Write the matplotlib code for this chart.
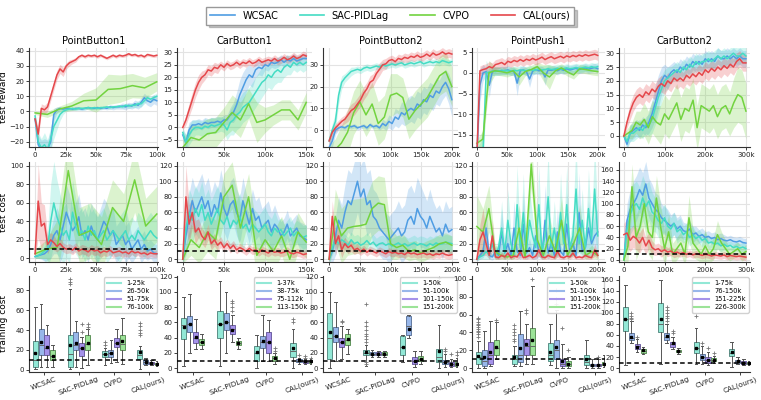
import numpy as np
import matplotlib
matplotlib.use('Agg')
import matplotlib.pyplot as plt
from matplotlib.lines import Line2D

# ---------------- labels / colours ----------------
algos = ['WCSAC', 'SAC-PIDLag', 'CVPO', 'CAL(ours)']
algo_colors = ['#4f9de3', '#44dcc4', '#72d33f', '#e5474b']
envs = ['PointButton1', 'CarButton1', 'PointButton2', 'PointPush1', 'CarButton2']
env_steps = [100, 150, 200, 200, 300]  # thousand env steps
box_colors = ['#92e8d6', '#98b7ea', '#a592ea', '#9ce398']
box_edges = ['#5a8f86', '#62799f', '#6d5fa3', '#5f945b']
interval_labels = [
    ['1-25k', '26-50k', '51-75k', '76-100k'],
    ['1-37k', '38-75k', '75-112k', '113-150k'],
    ['1-50k', '51-100k', '101-150k', '151-200k'],
    ['1-50k', '51-100k', '101-150k', '151-200k'],
    ['1-75k', '76-150k', '151-225k', '226-300k'],
]

# ---------------- test reward (mean, spread) ----------------
rew_pb1_wcsac = [-5, -22, -25, -24, -25, -20, -2, 1, 2, 1.5, 2, 2, 1.5, 2, 2, 1.5, 2, 2.5, 2, 2,
                 2.5, 2, 2.5, 2, 3, 2.5, 3, 3, 3.5, 3, 4, 3.5, 5, 4, 6, 9, 7, 6, 8, 7]
rew_pb1_wcsac_sd = [2, 6, 6, 6, 6, 8, 4, 2] + [1] * 16 + [1.5] * 4 + [2] * 4 + [2.5] * 2 + [3] * 6
rew_pb1_sac = [-3, -20, -24, -22, -25, -18, -10, -6, -2, 0, 1, 1.5, 2, 1.5, 2, 2, 2, 2.5, 2, 2.5,
               2, 2.5, 2.5, 3, 2.5, 3, 3, 3.5, 3, 4, 3.5, 4, 4, 5, 5, 7, 9, 8, 9, 10]
rew_pb1_sac_sd = [2, 6, 6, 8, 6, 8, 8, 6, 4, 2] + [1] * 19 + [1.5] * 4 + [2] * 7
rew_pb1_cal = [-5, -15, 2, 1, 3, 10, 17, 24, 28, 26, 30, 32, 33, 34, 36, 37, 36, 37, 36.5, 37,
               36, 37, 36, 35, 36, 37, 36, 37, 36.5, 37, 38, 37, 37.5, 36.5, 37, 36, 37.5, 37, 36.5, 37]
rew_pb1_cal_sd = [2, 4, 3, 3, 3, 3, 3, 3, 3, 3, 2, 2, 1.5, 1.5] + [1] * 26
rew_pb1_cvpo = [-1, -2, 1.5, 3.5, 7, 7.5, 14.5, 15, 17, 15.5, 19.5]
rew_pb1_cvpo_sd = [1, 2, 2, 3, 5, 8, 10, 9, 8, 7, 6]

rew_cb1_wcsac = [-3, -6, -1, 1, 1, 1.5, 1, 2, 1.5, 2, 2, 2.5, 2, 3, 3, 5, 6, 9, 13, 16,
                 19, 21, 20, 23, 24, 23.5, 25, 24.5, 26, 25.5, 26, 27, 26, 27, 26.5, 27.5, 26.5, 27, 27.5, 27.5]
rew_cb1_wcsac_sd = [2, 3, 3] + [2] * 12 + [3, 4, 5, 6, 6, 5, 4, 4, 3, 3, 3] + [2] * 14
rew_cb1_sac = [-2, -6, -3, -1, 0, 0, -0.5, 0.5, 0, 1, 0.5, 1, 1.5, 1, -1, 2, 3, 5, 6, 8,
               9, 10, 12, 14, 16, 18, 19, 21, 20, 22, 23, 22, 24, 25, 24, 26, 25, 26, 25, 26]
rew_cb1_sac_sd = [2, 3, 4, 4] + [3] * 10 + [4, 5] + [6] * 10 + [5] * 5 + [4] * 3 + [3] * 6
rew_cb1_cal = [0, 3, 7, 11, 15, 18, 20, 21, 23, 22.5, 24, 23.5, 25, 24, 25.5, 24.5, 25, 26, 25, 26,
               25.5, 26.5, 25.5, 26, 27, 26, 26.5, 27, 26.5, 27.5, 26.5, 27, 28, 27, 27.5, 28.5, 27.5, 28, 29, 28.5]
rew_cb1_cal_sd = [1, 2, 2.5, 3, 3, 3, 2.5, 2, 2, 2, 2, 2] + [1.5] * 28
rew_cb1_cvpo = [-8, -4, -5, -2.5, -2, 2, 6, 3, 9.5, 2, 3, 5, 7, 7, 3, 10]
rew_cb1_cvpo_sd = [3, 5, 6, 6, 6, 6, 7, 7, 6, 8, 5, 4, 4, 4, 4, 4]

rew_pb2_wcsac = [-8, -5, 0, 1, 1.5, 1, 2, 1.5, 2, 1, 1.5, 2, 1, 2.5, 1.5, 2, 1, 3, 2, 4,
                 3, 6, 5, 8, 7, 9, 10, 9, 12, 11, 14, 13, 16, 15, 18, 17, 20, 22, 19, 14]
rew_pb2_wcsac_sd = [3, 3, 2] + [1] * 14 + [2, 2, 3, 3, 4, 4, 5, 5] + [6] * 13 + [7, 8]
rew_pb2_sac = [-5, 0, 4, 16, 22, 24, 25.5, 27, 27.5, 28, 27.5, 28.5, 29, 28.5, 29, 29.5, 29, 30, 29.5, 30,
               30.5, 30, 30.5, 31, 30, 30.5, 31, 30.5, 31, 31.5, 30.5, 31, 31.5, 31, 31.5, 31, 32, 31.5, 31, 31.5]
rew_pb2_sac_sd = [2, 3, 4, 4, 3, 2, 2, 2] + [1.5] * 32
rew_pb2_cal = [-5, -1, 1, 2.5, 4, 5, 7, 9, 10, 12, 14, 17, 19, 22, 23, 26, 28, 30, 30.5, 32,
               32.5, 31.5, 33, 32.5, 33.5, 33, 34, 33.5, 34.5, 33.5, 34, 35, 34, 35.5, 34.5, 35, 36, 35, 35.5, 35]
rew_pb2_cal_sd = [2] * 6 + [3] * 11 + [2.5, 2.5] + [2] * 21
rew_pb2_cvpo = [-10, -9, -6, -1, 8, 13, 7, 12, 3, 6, 16, 17, 15, 5, 9, 12, 15, 20, 25, 27, 20]
rew_pb2_cvpo_sd = [3, 5, 8] + [10] * 8 + [9] * 10

rew_pp1_wcsac = [-20, -3, 0, 0.3, -3, 0.3, 0.5, 0.4, 0.6, 0.5, 0.7, 0.4, 0.3, -2.5, 0.5, 0.7, 0.3, -1.5, 0.4, 0.8,
                 0.5, 0.6, -1, 0.7, 0.6, 0.8, 0.5, 0.9, 0.6, 1, 0.7, 0.9, 1.1, 0.8, 1, 1.2, 0.9, 1.1, 1.3, 1]
rew_pp1_wcsac_sd = [2, 4, 2, 1, 3, 1, 1, 1, 1, 1, 1, 1, 1, 3, 1, 1, 1, 2, 1, 1,
                    1, 1, 2, 1, 1, 1, 1, 1, 1, 1, 1, 1, 1, 1, 1, 1, 1, 1, 1, 1]
rew_pp1_sac = [-20, -20, -19, 0, 0.2, 0.4, 0.3, 0.5, 0.4, 0.6, 0.5, 0.4, 0.6, 0.5, 0.7, 0.6, 0.5, 0.8, 0.6, 0.7,
               0.9, 0.7, 0.8, 1, 0.8, 0.9, 1.1, 0.9, 1, 1.2, 1, 1.1, 1.3, 1.1, 1.2, 1.4, 1.2, 1.5, 1.3, 1.5]
rew_pp1_sac_sd = [2, 3, 6, 3] + [1] * 36
rew_pp1_cal = [-20, 0.5, 0.8, 1, 1.5, 1.2, 2, 2.2, 2.5, 2, 2.8, 2.5, 3, 2.7, 3.2, 2.8, 3.3, 3, 3.5, 3.1,
               3.4, 3.8, 3.2, 3.6, 3.9, 3.4, 3.7, 4, 3.6, 4.1, 3.8, 4.2, 3.9, 4.3, 4, 4.4, 4.1, 4.3, 4.5, 4.2]
rew_pp1_cal_sd = [2] + [1.2] * 39
rew_pp1_cvpo = [-17, -16, 0, 0.5, 0.3, 0, 0.5, -1, 0.3, 0.8, 1.5, 0, -1, 0.5, 1.2, 0.2, -0.5, 1, 0.8, 0.5, 0.3]
rew_pp1_cvpo_sd = [1, 2, 3, 1, 1, 1, 1, 2, 1, 1, 1, 2, 3, 1, 1, 1, 1, 1, 1, 1, 1]

rew_cb2_wcsac = [0, -3, 1, 2, 3, 2, 4, 3, 5, 8, 12, 16, 20, 22, 21, 23, 24, 23, 25, 24,
                 26, 25, 27, 26, 27, 26, 28, 27, 28, 27, 29, 28, 28, 29, 28, 29, 28, 29, 28, 28]
rew_cb2_wcsac_sd = [1, 2, 3, 3, 3, 3, 3, 3, 4, 5, 6, 6, 5, 4, 4] + [3] * 25
rew_cb2_sac = [0, -2, 1, 1, 2, 3, 2, 4, 4, 6, 10, 14, 17, 20, 21, 22, 23, 24, 23, 25,
               24, 26, 25, 27, 26, 27, 27, 28, 27, 28, 29, 28, 29, 28, 29, 30, 29, 29, 30, 29]
rew_cb2_sac_sd = [1, 2, 3, 3, 3, 3, 3, 3, 4, 5, 6, 6, 5, 4, 4] + [3] * 25
rew_cb2_cal = [0, 5, 9, 12, 14, 15, 14, 16, 15, 17, 16, 18, 19, 18, 20, 19, 21, 20, 21, 20,
               22, 21, 22.5, 21.5, 23, 22, 24, 23, 24.5, 23.5, 25, 24, 25.5, 24.5, 26, 25, 27, 28, 26.5, 26.5]
rew_cb2_cal_sd = [1, 2] + [3] * 38
rew_cb2_cvpo = [0, 1, 2, 5, 4, 6, 3, 7, 5, 4, 8, 6, 9, 12, 6, 10, 9, 13, 3, 11, 10, 9, 11, 7, 10, 11, 8, 12, 15, 14, 9]
rew_cb2_cvpo_sd = [1, 2, 3, 4, 5] + [6] * 4 + [7] * 5 + [8] * 13 + [9, 10, 10, 10]

# ---------------- test cost (mean, spread) ----------------
cost_pb1_wcsac = [2, 3, 4, 5, 8, 15, 25, 30, 20, 35, 50, 40, 30, 35, 45, 25, 30, 20, 35, 25,
                  20, 30, 40, 35, 25, 30, 15, 20, 25, 15, 20, 10, 15, 20, 10, 15, 8, 10, 6, 5]
cost_pb1_wcsac_sd = [2, 3, 5, 8, 10, 15, 20, 25, 25, 30, 30, 30] + [25] * 14 + [20] * 5 + [15] * 5 + [10] * 4
cost_pb1_sac = [2, 3, 5, 8, 10, 40, 60, 45, 35, 25, 30, 20, 50, 35, 25, 30, 20, 35, 25, 30,
                20, 25, 30, 20, 25, 30, 25, 20, 25, 30, 20, 25, 20, 30, 25, 20, 25, 30, 25, 22]
cost_pb1_sac_sd = [2, 3, 5, 10, 20, 40, 45, 40, 35, 30, 30, 25, 35, 30] + [25] * 16 + [20] * 10
cost_pb1_cal = [5, 62, 35, 38, 15, 20, 17, 13, 16, 12, 10, 11, 9, 12, 8, 10, 9, 7, 10, 8,
                9, 6, 8, 7, 9, 6, 7, 8, 6, 7, 5, 8, 6, 7, 5, 6, 4, 6, 5, 5]
cost_pb1_cal_sd = [5, 40, 25, 20, 10, 8, 8, 6, 6] + [5] * 21 + [4] * 10
cost_pb1_cvpo = [5, 10, 12, 95, 25, 30, 15, 55, 40, 85, 35, 48]
cost_pb1_cvpo_sd = [5, 10, 30, 40, 30, 30, 30, 30, 30, 35, 30, 30]

cost_cb1_wcsac = [0, 30, 55, 75, 60, 70, 80, 65, 75, 55, 70, 60, 85, 65, 55, 70, 75, 60, 50, 75,
                  60, 45, 65, 50, 55, 40, 45, 50, 35, 45, 40, 30, 35, 45, 30, 35, 40, 30, 28, 25]
cost_cb1_wcsac_sd = [5, 25] + [30] * 18 + [25] * 10 + [18] * 10
cost_cb1_sac = [0, 40, 60, 50, 65, 55, 70, 50, 60, 45, 55, 65, 50, 45, 55, 40, 50, 45, 55, 40,
                45, 35, 45, 40, 35, 40, 45, 35, 30, 40, 35, 38, 30, 35, 40, 30, 35, 32, 28, 30]
cost_cb1_sac_sd = [5, 30] + [30] * 18 + [22] * 10 + [15] * 10
cost_cb1_cal = [0, 80, 45, 60, 35, 40, 30, 25, 35, 20, 25, 18, 22, 15, 20, 14, 18, 12, 15, 13,
                10, 14, 11, 12, 9, 12, 10, 8, 11, 9, 10, 8, 9, 11, 8, 7, 9, 8, 6, 7]
cost_cb1_cal_sd = [5, 40, 25, 20, 15, 12, 10, 10, 10, 8, 8, 7, 7, 6, 6, 6, 6] + [5] * 23
cost_cb1_cvpo = [0, 25, 15, 35, 25, 80, 95, 40, 80, 5, 25, 10, 30, 0, 35, 22]
cost_cb1_cvpo_sd = [5, 20, 20, 25, 25, 30, 30, 30, 30, 30, 25, 25, 25, 25, 25, 20]

cost_pb2_wcsac = [0, 10, 30, 50, 40, 60, 75, 70, 85, 100, 80, 90, 70, 75, 55, 50, 40, 35, 30, 25,
                  30, 35, 40, 30, 35, 50, 55, 45, 65, 55, 50, 40, 55, 45, 35, 40, 30, 45, 35, 38]
cost_pb2_wcsac_sd = [5, 15, 25, 30, 30, 35] + [40] * 8 + [35] * 4 + [30] * 4 + [35] * 3 + [40] * 5 + [35] * 3 + [30] * 7
cost_pb2_sac = [0, 15, 25, 20, 25, 22, 18, 25, 20, 22, 18, 20, 24, 19, 22, 17, 20, 21, 18, 20,
                17, 19, 21, 18, 20, 17, 19, 21, 18, 20, 19, 17, 20, 18, 21, 19, 20, 22, 21, 20]
cost_pb2_sac_sd = [5] + [10] * 39
cost_pb2_cal = [0, 55, 20, 30, 12, 20, 15, 18, 12, 14, 10, 13, 9, 12, 10, 8, 11, 9, 7, 10,
                8, 9, 7, 8, 6, 9, 7, 8, 6, 7, 8, 6, 7, 5, 7, 6, 8, 6, 5, 6]
cost_pb2_cal_sd = [5, 20, 15, 12, 10, 8, 8, 8, 6, 6] + [5] * 30
cost_pb2_cvpo = [0, 55, 30, 40, 42, 43, 45, 65, 72, 70, 20, 15, 18, 10, 12, 8, 12, 15, 20, 22, 18]
cost_pb2_cvpo_sd = [5] + [35] * 9 + [20, 15, 15] + [12] * 8

cost_pp1_wcsac = [0, 5, 10, 40, 5, 3, 10, 5, 35, 8, 20, 5, 40, 10, 5, 45, 8, 15, 5, 30,
                  10, 5, 50, 8, 20, 5, 35, 10, 5, 45, 10, 20, 5, 60, 10, 15, 40, 20, 30, 35]
cost_pp1_wcsac_sd = [2, 5, 8, 30, 5, 4, 8, 5, 30, 8, 15, 5, 35, 8, 5, 40, 8, 12, 5, 30,
                     8, 5, 45, 8, 15, 5, 30, 8, 5, 40, 8, 15, 5, 50, 8, 12, 35, 15, 25, 30]
cost_pp1_sac = [0, 3, 5, 10, 5, 20, 5, 15, 40, 8, 50, 20, 5, 70, 15, 60, 10, 50, 30, 15,
                70, 10, 30, 80, 15, 40, 10, 60, 20, 70, 15, 30, 90, 20, 50, 15, 65, 25, 90, 30]
cost_pp1_sac_sd = [2, 3, 5, 10, 5, 15, 5, 12, 35, 8, 40, 15, 5, 50, 12, 50, 8, 40, 25, 12,
                   50, 8, 25, 60, 12, 35, 8, 50, 15, 50, 12, 25, 60, 15, 40, 12, 50, 20, 60, 25]
cost_pp1_cal = [0, 25, 35, 20, 5, 30, 3, 2, 5, 3, 8, 2, 4, 3, 10, 2, 3, 5, 2, 4,
                12, 3, 2, 5, 3, 2, 10, 3, 2, 4, 3, 8, 2, 3, 2, 5, 3, 2, 12, 5]
cost_pp1_cal_sd = [2, 20, 30, 15, 5, 20, 3, 2, 4, 3, 6, 2, 3, 3, 8, 2, 3, 4, 2, 3,
                   8, 3, 2, 4, 3, 2, 8, 3, 2, 3, 3, 6, 2, 3, 2, 4, 3, 2, 8, 4]
cost_pp1_cvpo = [42, 35, 65, 10, 5, 3, 5, 40, 2, 122, 25, 5, 30, 10, 50, 5, 20, 40, 5, 10, 5]
cost_pp1_cvpo_sd = [40, 30, 30, 10, 5, 3, 5, 30, 2, 30, 20, 5, 25, 10, 30, 5, 15, 30, 5, 8, 5]

cost_cb2_wcsac = [0, 70, 90, 100, 110, 125, 115, 135, 110, 100, 90, 85, 75, 70, 65, 60, 65, 55, 60, 52,
                  50, 55, 45, 48, 42, 45, 40, 42, 38, 40, 36, 38, 35, 34, 36, 33, 32, 34, 31, 30]
cost_cb2_wcsac_sd = [5, 30, 35, 40, 40, 40, 40, 40, 35, 35, 30, 30, 25, 25, 25, 20, 20, 20, 20, 15,
                     15, 15, 15, 12, 12, 12] + [10] * 7 + [8] * 7
cost_cb2_sac = [0, 55, 80, 95, 100, 90, 110, 95, 105, 85, 80, 70, 65, 75, 60, 55, 65, 50, 55, 45,
                50, 40, 45, 38, 42, 35, 38, 30, 32, 28, 30, 25, 28, 24, 26, 22, 24, 21, 23, 20]
cost_cb2_sac_sd = [5, 30, 35, 40, 40, 40, 40, 40, 35, 35, 30, 30, 25, 25, 25, 20, 20, 20, 20, 15,
                   15, 15, 15, 12, 12, 12] + [10] * 7 + [8] * 7
cost_cb2_cal = [45, 48, 35, 42, 38, 30, 40, 25, 35, 22, 18, 20, 15, 18, 14, 16, 12, 14, 11, 13,
                10, 12, 9, 11, 10, 8, 10, 9, 7, 9, 8, 7, 9, 6, 8, 7, 6, 7, 6, 5]
cost_cb2_cal_sd = [20, 25, 20, 20, 20, 18, 18, 15, 15, 12, 10, 10, 10, 8, 8, 8, 8, 8] + [6] * 22
cost_cb2_cvpo = [0, 25, 130, 40, 60, 100, 50, 40, 110, 60, 20, 50, 10, 20, 30, 10, 75, 30, 20, 10,
                 25, 10, 20, 45, 30, 20, 10, 15, 20, 10, 15]
cost_cb2_cvpo_sd = [5, 30] + [40] * 8 + [30, 30] + [20] * 4 + [40, 25, 20, 15, 30, 15, 20, 25, 20, 15] + [12] * 5

# ---------------- training cost box statistics ----------------
# order: WCSAC x4 intervals, SAC-PIDLag x4, CVPO x4, CAL x4
box_pb1_lo = [1, 3, 3, 3, 1, 3, 2, 5, 5, 7, 8, 6, 1, 5, 5, 4]
box_pb1_q1 = [3, 15, 15, 10, 3, 20, 14, 20, 13, 13, 23, 20, 11, 6, 6, 5]
box_pb1_med = [10, 25, 22, 14, 16, 25, 22, 26, 16, 17, 27, 26, 15, 8, 7, 6]
box_pb1_q3 = [29, 41, 35, 20, 35, 38, 27, 35, 19, 20, 32, 35, 20, 10, 8, 7]
box_pb1_hi = [63, 66, 45, 25, 81, 49, 33, 41, 22, 30, 41, 52, 24, 12, 10, 9]
box_pb1_mean = [17, 28, 23, 14, 25, 27, 22, 27, 16, 17, 27, 29, 18, 8, 7, 6]
box_pb1_fliers = {4: [86, 88, 91], 6: [38, 46], 7: [43, 46], 8: [25, 28], 12: [35, 37, 40, 44, 47]}

box_cb1_lo = [3, 20, 25, 25, 3, 20, 35, 25, 0, 10, 10, 5, 0, 5, 5, 5]
box_cb1_q1 = [38, 48, 33, 30, 40, 50, 45, 30, 10, 27, 20, 10, 15, 8, 7, 7]
box_cb1_med = [57, 58, 40, 35, 58, 60, 52, 33, 20, 35, 35, 13, 22, 10, 8, 8]
box_cb1_q3 = [66, 68, 48, 38, 75, 72, 57, 36, 29, 42, 47, 16, 33, 12, 10, 10]
box_cb1_hi = [93, 97, 64, 45, 115, 100, 70, 40, 43, 70, 63, 20, 52, 14, 12, 12]
box_cb1_mean = [54, 58, 41, 34, 58, 60, 50, 33, 21, 36, 34, 14, 27, 11, 9, 9]
box_cb1_fliers = {6: [75, 80, 85, 88], 11: [23, 26], 12: [60, 65], 13: [17], 14: [14, 16], 15: [14]}

box_pb2_lo = [0, 10, 12, 18, 3, 15, 15, 15, 8, 40, 2, 5, 0, 2, 1, 1]
box_pb2_q1 = [12, 35, 28, 30, 17, 17, 17, 17, 17, 44, 5, 9, 8, 5, 3, 3]
box_pb2_med = [40, 42, 35, 37, 20, 19, 19, 19, 28, 55, 10, 12, 15, 8, 5, 5]
box_pb2_q3 = [73, 54, 40, 45, 24, 21, 21, 21, 42, 69, 15, 16, 25, 11, 8, 8]
box_pb2_hi = [100, 87, 56, 52, 30, 24, 23, 23, 44, 70, 22, 22, 57, 18, 12, 13]
box_pb2_mean = [47, 42, 35, 38, 21, 19, 19, 19, 28, 52, 9, 12, 22, 8, 6, 6]
box_pb2_fliers = {2: [60, 62], 4: [5, 8, 35, 38, 42, 45, 50, 55, 60, 84], 12: [118], 13: [22, 25],
                  14: [18], 15: [17, 21]}

box_pp1_lo = [0, 0, 2, 10, 2, 2, 5, 5, 3, 0, 0, 0, 0, 0, 0, 1]
box_pp1_q1 = [5, 2, 5, 15, 5, 7, 15, 15, 8, 10, 2, 2, 3, 2, 2, 3]
box_pp1_med = [12, 8, 15, 22, 10, 15, 25, 25, 15, 20, 5, 5, 7, 3, 3, 5]
box_pp1_q3 = [18, 20, 29, 31, 15, 38, 33, 45, 28, 32, 10, 8, 15, 5, 5, 7]
box_pp1_hi = [30, 42, 53, 52, 25, 64, 50, 92, 50, 65, 27, 12, 32, 10, 10, 15]
box_pp1_mean = [13, 12, 18, 24, 12, 22, 27, 31, 18, 24, 8, 5, 10, 4, 4, 5]
box_pp1_fliers = {0: [35, 38, 40, 42, 44, 46, 48, 50, 52, 55, 56], 3: [54], 4: [30, 33, 37, 40, 44, 48],
                  6: [62, 65], 7: [100], 9: [72, 78, 88], 10: [45], 11: [20], 14: [12]}

box_cb2_lo = [5, 45, 30, 25, 8, 45, 35, 25, 8, 8, 5, 10, 2, 8, 5, 5]
box_cb2_q1 = [67, 50, 35, 28, 65, 50, 38, 29, 27, 15, 10, 12, 22, 10, 8, 7]
box_cb2_med = [88, 55, 40, 31, 80, 57, 43, 31, 37, 20, 14, 15, 28, 13, 10, 9]
box_cb2_q3 = [110, 63, 43, 34, 117, 63, 47, 33, 47, 26, 20, 18, 35, 15, 12, 11]
box_cb2_hi = [150, 85, 52, 38, 160, 80, 57, 37, 72, 40, 30, 22, 47, 20, 16, 13]
box_cb2_mean = [88, 57, 39, 32, 88, 58, 45, 31, 37, 20, 15, 15, 29, 13, 10, 9]
box_cb2_fliers = {1: [88, 90, 95, 100], 2: [57], 5: [85, 90, 95, 100, 105, 110], 6: [63, 67],
                  8: [95], 9: [46], 10: [36], 11: [27]}

cost_limit = 10

# ---------------- tables built from the lists ----------------
rew_series = [
    [(rew_pb1_wcsac, rew_pb1_wcsac_sd), (rew_pb1_sac, rew_pb1_sac_sd), (rew_pb1_cvpo, rew_pb1_cvpo_sd), (rew_pb1_cal, rew_pb1_cal_sd)],
    [(rew_cb1_wcsac, rew_cb1_wcsac_sd), (rew_cb1_sac, rew_cb1_sac_sd), (rew_cb1_cvpo, rew_cb1_cvpo_sd), (rew_cb1_cal, rew_cb1_cal_sd)],
    [(rew_pb2_wcsac, rew_pb2_wcsac_sd), (rew_pb2_sac, rew_pb2_sac_sd), (rew_pb2_cvpo, rew_pb2_cvpo_sd), (rew_pb2_cal, rew_pb2_cal_sd)],
    [(rew_pp1_wcsac, rew_pp1_wcsac_sd), (rew_pp1_sac, rew_pp1_sac_sd), (rew_pp1_cvpo, rew_pp1_cvpo_sd), (rew_pp1_cal, rew_pp1_cal_sd)],
    [(rew_cb2_wcsac, rew_cb2_wcsac_sd), (rew_cb2_sac, rew_cb2_sac_sd), (rew_cb2_cvpo, rew_cb2_cvpo_sd), (rew_cb2_cal, rew_cb2_cal_sd)],
]
cost_series = [
    [(cost_pb1_wcsac, cost_pb1_wcsac_sd), (cost_pb1_sac, cost_pb1_sac_sd), (cost_pb1_cvpo, cost_pb1_cvpo_sd), (cost_pb1_cal, cost_pb1_cal_sd)],
    [(cost_cb1_wcsac, cost_cb1_wcsac_sd), (cost_cb1_sac, cost_cb1_sac_sd), (cost_cb1_cvpo, cost_cb1_cvpo_sd), (cost_cb1_cal, cost_cb1_cal_sd)],
    [(cost_pb2_wcsac, cost_pb2_wcsac_sd), (cost_pb2_sac, cost_pb2_sac_sd), (cost_pb2_cvpo, cost_pb2_cvpo_sd), (cost_pb2_cal, cost_pb2_cal_sd)],
    [(cost_pp1_wcsac, cost_pp1_wcsac_sd), (cost_pp1_sac, cost_pp1_sac_sd), (cost_pp1_cvpo, cost_pp1_cvpo_sd), (cost_pp1_cal, cost_pp1_cal_sd)],
    [(cost_cb2_wcsac, cost_cb2_wcsac_sd), (cost_cb2_sac, cost_cb2_sac_sd), (cost_cb2_cvpo, cost_cb2_cvpo_sd), (cost_cb2_cal, cost_cb2_cal_sd)],
]
box_data = [
    (box_pb1_lo, box_pb1_q1, box_pb1_med, box_pb1_q3, box_pb1_hi, box_pb1_mean, box_pb1_fliers),
    (box_cb1_lo, box_cb1_q1, box_cb1_med, box_cb1_q3, box_cb1_hi, box_cb1_mean, box_cb1_fliers),
    (box_pb2_lo, box_pb2_q1, box_pb2_med, box_pb2_q3, box_pb2_hi, box_pb2_mean, box_pb2_fliers),
    (box_pp1_lo, box_pp1_q1, box_pp1_med, box_pp1_q3, box_pp1_hi, box_pp1_mean, box_pp1_fliers),
    (box_cb2_lo, box_cb2_q1, box_cb2_med, box_cb2_q3, box_cb2_hi, box_cb2_mean, box_cb2_fliers),
]

# ---------------- layout ----------------
W, H = 761, 400
col_px = [(29, 158), (177, 312), (323, 458), (472, 605), (619, 750)]
row_px = [(48, 147), (162, 262), (276, 372)]
xlims = [(-5, 101), (-7, 157), (-10, 210), (-8, 212), (-12, 310)]
xticks = [[0, 25, 50, 75, 100], [0, 50, 100, 150], [0, 50, 100, 150, 200],
          [0, 50, 100, 150, 200], [0, 100, 200, 300]]
rew_ylims = [(-23.5, 41.8), (-7.8, 31.7), (-7.8, 37.8), (-17.9, 6), (-4, 31.9)]
rew_yticks = [[-20, -10, 0, 10, 20, 30, 40], [-5, 0, 5, 10, 15, 20, 25, 30], [0, 10, 20, 30],
              [-15, -10, -5, 0, 5], [0, 5, 10, 15, 20, 25, 30]]
cost_ylims = [(-3.9, 104.3), (-3.5, 124.7), (-3.5, 124.7), (-3.5, 124.7), (-3.6, 174)]
cost_yticks = [range(0, 101, 20), range(0, 121, 20), range(0, 121, 20), range(0, 121, 20), range(0, 161, 20)]
box_ylims = [(-2.3, 94.5), (-5, 121), (-5, 121), (-4.4, 103.3), (-7, 166.5)]
box_yticks = [range(0, 81, 20), range(0, 121, 20), range(0, 121, 20), range(0, 101, 20), range(0, 161, 20)]

fig = plt.figure(figsize=(7.61, 4.0), dpi=100)


def add_ax(c, r):
    l, rr = col_px[c]
    t, b = row_px[r]
    return fig.add_axes([l / W, 1 - b / H, (rr - l) / W, (b - t) / H])


def style(ax, grid=True):
    for s in ['top', 'right']:
        ax.spines[s].set_visible(False)
    for s in ['left', 'bottom']:
        ax.spines[s].set_color('#333333')
        ax.spines[s].set_linewidth(0.8)
    ax.tick_params(labelsize=5, length=2, width=0.6, pad=1.5, colors='#222222')
    if grid:
        ax.grid(color='#e3e3e3', lw=0.8)
        ax.set_axisbelow(True)


def xk(v):
    return '0' if v == 0 else f'{v}k'


def curves(ax, series, steps):
    for (vals, sd), color in zip(series, algo_colors):
        vals = np.array(vals, dtype=float)
        sd = np.array(sd, dtype=float)
        x = np.linspace(0, steps, len(vals))
        ax.fill_between(x, vals - sd, vals + sd, color=color, alpha=0.25, lw=0)
        ax.plot(x, vals, color=color, lw=1.1)


for c in range(5):
    # reward
    ax = add_ax(c, 0)
    style(ax)
    curves(ax, rew_series[c], env_steps[c])
    ax.set_xlim(*xlims[c])
    ax.set_ylim(*rew_ylims[c])
    ax.set_xticks(xticks[c])
    ax.set_xticklabels([xk(v) for v in xticks[c]])
    ax.set_yticks(rew_yticks[c])
    ax.set_title(envs[c], fontsize=7, pad=3)
    if c == 0:
        ax.set_ylabel('test reward', fontsize=6.5)
        ax.yaxis.set_label_coords(-0.16, 0.5)

    # cost
    ax = add_ax(c, 1)
    style(ax)
    curves(ax, cost_series[c], env_steps[c])
    ax.axhline(cost_limit, color='black', ls=(0, (3, 2)), lw=1.1, zorder=5)
    ax.set_xlim(*xlims[c])
    ax.set_ylim(*cost_ylims[c])
    ax.set_xticks(xticks[c])
    ax.set_xticklabels([xk(v) for v in xticks[c]])
    ax.set_yticks(list(cost_yticks[c]))
    if c == 0:
        ax.set_ylabel('test cost', fontsize=6.5)
        ax.yaxis.set_label_coords(-0.16, 0.5)

    # training cost boxes
    ax = add_ax(c, 2)
    style(ax, grid=False)
    lo, q1, med, q3, hi, mean, fl = box_data[c]
    offsets = [-0.25, -0.083, 0.083, 0.25]
    stats, pos = [], []
    for a in range(4):
        for k in range(4):
            i = a * 4 + k
            stats.append(dict(whislo=lo[i], q1=q1[i], med=med[i], q3=q3[i], whishi=hi[i],
                              mean=mean[i], fliers=fl.get(i, [])))
            pos.append(a + offsets[k])
    bp = ax.bxp(stats, positions=pos, widths=0.145, patch_artist=True, showmeans=True,
                meanprops=dict(marker='s', markerfacecolor='black', markeredgecolor='black', markersize=1.8),
                flierprops=dict(marker='+', markeredgecolor='#777777', markersize=2.5, markeredgewidth=0.6),
                whiskerprops=dict(color='#555555', lw=0.7),
                capprops=dict(color='#555555', lw=0.7),
                medianprops=dict(color='#666666', lw=0.7))
    for j, patch in enumerate(bp['boxes']):
        patch.set_facecolor(box_colors[j % 4])
        patch.set_edgecolor(box_edges[j % 4])
        patch.set_linewidth(0.7)
    ax.axhline(cost_limit, color='black', ls=(0, (3, 2)), lw=1.1, zorder=5)
    ax.set_xlim(-0.43, 3.27)
    ax.set_ylim(*box_ylims[c])
    ax.set_yticks(list(box_yticks[c]))
    ax.set_xticks(range(4))
    ax.set_xticklabels(algos, rotation=20, fontsize=5.2)
    ax.tick_params(axis='x', pad=1)
    handles = [Line2D([], [], color=bc, lw=1.5) for bc in box_colors]
    ax.legend(handles, interval_labels[c], loc='upper right', fontsize=4.8, handlelength=2.2,
              borderpad=0.4, labelspacing=0.3, borderaxespad=0.2, framealpha=0.9, edgecolor='#cccccc')
    if c == 0:
        ax.set_ylabel('training cost', fontsize=6.5)
        ax.yaxis.set_label_coords(-0.16, 0.5)

# top legend
top_handles = [Line2D([], [], color=col, lw=1.2) for col in algo_colors]
fig.legend(top_handles, algos, loc='upper center', bbox_to_anchor=(0.513, 0.995), ncol=4,
           fontsize=7, handlelength=2.5, columnspacing=2.2, borderpad=0.4, frameon=True,
           edgecolor='#999999', fancybox=False, shadow={'alpha': 0.3})

fig.savefig('out.png', dpi=100)
